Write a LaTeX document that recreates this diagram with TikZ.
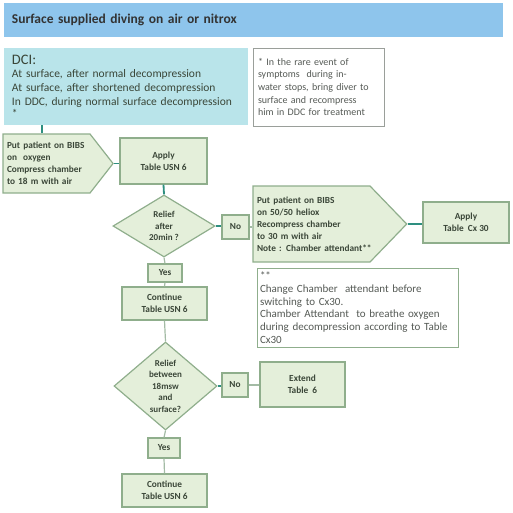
\documentclass[tikz,border=0pt]{standalone}
\usepackage{fontspec}
\setmainfont{Carlito}
\usetikzlibrary{positioning,shapes.geometric,shapes.symbols}
\definecolor{barblue}{HTML}{8EC5EC}
\definecolor{dcicyan}{HTML}{B9E4EA}
\definecolor{boxfill}{HTML}{E4EFDA}
\definecolor{boxline}{HTML}{8FAE8C}
\definecolor{tealink}{HTML}{2E8F80}
\definecolor{greylink}{HTML}{A3BBA5}
\definecolor{ink}{HTML}{3A4638}
\definecolor{noteink}{HTML}{555A55}
\definecolor{noteline}{HTML}{9A9F9A}
\newcommand{\fTitle}{\fontsize{13.5}{16}\selectfont}
\newcommand{\fDci}{\fontsize{11.5}{14}\selectfont}
\newcommand{\fNode}{\fontsize{9.3}{12}\selectfont}
\newcommand{\fNote}{\fontsize{10}{12.7}\selectfont}

\begin{document}
\begin{tikzpicture}[x=1pt,y=-1pt,
  flowbox/.style={draw=boxline,fill=boxfill,line width=1.2pt,align=center,inner sep=2pt,text=ink,font=\fNode\bfseries},
  pent/.style={flowbox,signal,signal to=east,align=left,inner xsep=4pt},
  decide/.style={flowbox,diamond,inner sep=0pt,font=\fontsize{9}{11.5}\selectfont\bfseries},
  notebox/.style={draw=noteline,fill=white,line width=1pt,align=left,text=noteink,font=\fNote,inner xsep=5pt},
  mainlink/.style={tealink,line width=1.8pt},
  sidelink/.style={greylink,line width=1.2pt}]
  \useasboundingbox (0,0) rectangle (513,512);
  % header and entry conditions
  \node[fill=barblue,minimum width=499pt,minimum height=34pt,text width=483pt,align=left,inner xsep=8pt,text=black!80,font=\fTitle\bfseries] (title) at (253.5,20) {Surface supplied diving on air or nitrox};
  \node[fill=dcicyan,minimum width=244pt,minimum height=77pt,text width=228pt,align=left,inner sep=0pt,text=ink,font=\fDci] (dci) at (126,86.5)
    {{\fontsize{14.5}{14}\selectfont DCI:}\\[-1pt]At surface, after normal decompression\\At surface, after shortened decompression\\In DDC, during normal surface decompression\\[-2pt]*};
  \node[notebox,minimum width=131pt,minimum height=78pt,text width=121pt,inner xsep=5pt] (rare) at (318.5,87)
    {* In the rare event of\\symptoms\ \ during in-\\water stops, bring diver to\\surface and recompress\\him in DDC for treatment};
  % first treatment
  \node[pent,text width=79pt,minimum height=59pt,signal pointer angle=104] (bibsoxy) at (46.5,163.5)
    {Put patient on BIBS\\on\ \ oxygen\\\mbox{Compress chamber}\\to 18 m with air};
  \node[flowbox,minimum width=87pt,minimum height=46pt] (usn) at (163.5,161) {Apply\\Table USN 6};
  \node[decide,minimum width=102pt,minimum height=62pt] (relief1) at (164,226) {Relief\\after\\20min ?};
  \node[flowbox,minimum width=27pt,minimum height=24pt] (no1) at (235.5,227) {No};
  \node[flowbox,minimum width=34pt,minimum height=18pt] (yes1) at (165,273) {Yes};
  \node[flowbox,minimum width=85pt,minimum height=33pt] (cont1) at (164.5,303.5) {Continue\\Table USN 6};
  % heliox branch
  \node[pent,text width=109pt,minimum height=76pt,signal pointer angle=92] (bibshe) at (311.5,224)
    {Put patient on BIBS\\on 50/50 heliox\\Recompress chamber\\to 30 m with air\\\mbox{Note : Chamber attendant**}};
  \node[flowbox,minimum width=86pt,minimum height=41pt] (cx30) at (466,222.5) {Apply\\Table\ \ Cx 30};
  \node[notebox,minimum width=201pt,minimum height=79pt,text width=195pt,inner xsep=3pt,draw=boxline,font=\fontsize{11}{12.7}\selectfont] (attend) at (357.5,307.5)
    {**\\Change Chamber\ \ attendant before\\switching to Cx30.\\Chamber Attendant\ \ to breathe oxygen\\during decompression according to Table\\Cx30};
  % second check
  \node[decide,minimum width=103pt,minimum height=88pt] (relief2) at (165.5,386) {Relief\\between\\18msw\\and\\surface?};
  \node[flowbox,minimum width=26pt,minimum height=24pt] (no2) at (235,385) {No};
  \node[flowbox,minimum width=85pt,minimum height=45pt] (extend) at (302.5,384.5) {Extend\\Table\ \ 6};
  \node[flowbox,minimum width=32pt,minimum height=20pt] (yes2) at (164,448) {Yes};
  \node[flowbox,minimum width=85pt,minimum height=33pt] (cont2) at (164.5,490.5) {Continue\\Table USN 6};
  % connectors
  \draw[mainlink] ([xshift=-4.5pt]bibsoxy.north) -- ([xshift=-4.5pt]bibsoxy.north |- dci.south);
  \draw[mainlink] (bibsoxy.east) -- (usn.west |- bibsoxy.east);
  \draw[mainlink] (usn.south) -- (relief1.north);
  \draw[mainlink] (relief1.east) -- (no1.west |- relief1.east);
  \draw[sidelink] (no1.east) -- (no1.east -| bibshe.west);
  \draw[mainlink] (bibshe.east) -- (cx30.west |- bibshe.east);
  \draw[sidelink] (relief1.south) -- (yes1.north);
  \draw[sidelink] (yes1.south) -- (cont1.north);
  \draw[sidelink] (cont1.south) -- (relief2.north);
  \draw[mainlink] (relief2.east) -- (no2.west |- relief2.east);
  \draw[sidelink] (no2.east) -- (extend.west |- no2.east);
  \draw[sidelink] (relief2.south) -- (yes2.north);
  \draw[sidelink] (yes2.south) -- (cont2.north);
\end{tikzpicture}
\end{document}
